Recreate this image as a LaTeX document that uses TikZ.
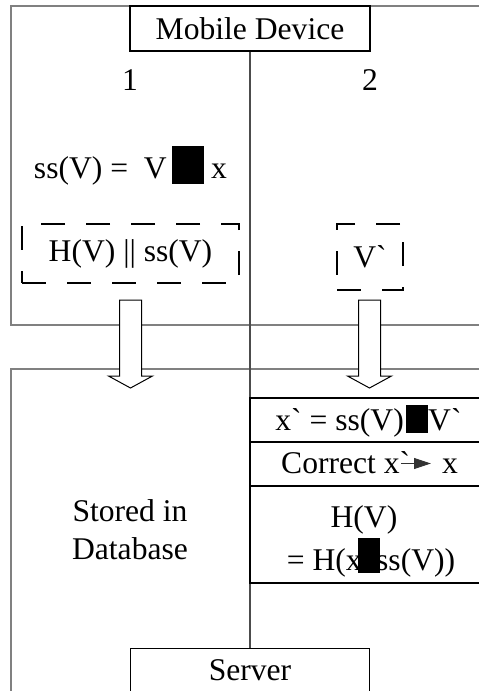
\documentclass[tikz,border=0pt]{standalone}
\usepackage{fontspec}
\newfontfamily\tnr{Liberation Serif}
\usetikzlibrary{arrows.meta}
\definecolor{framegray}{RGB}{128,128,128}
\tikzset{
  txt/.style={font=\tnr\fontsize{31.6}{38}\selectfont, inner sep=0pt},
  frame/.style={draw=framegray, line width=1.3pt},
  dashbox/.style={txt, draw, line width=1.3pt, dash pattern=on 24pt off 21pt},
  plainbox/.style={txt, draw, line width=1.3pt, fill=white},
}
\begin{document}
\begin{tikzpicture}[x=1pt,y=-1pt]
\useasboundingbox (0,0) rectangle (479,691);
% device and server areas
\draw[frame] (481,6) -- (11,6) -- (11,325) -- (481,325);
\draw[frame] (481,369) -- (11,369) -- (11,693);
\node[plainbox, minimum width=240pt, minimum height=45pt] (mobile) at (250,28.5) {Mobile Device};
\node[plainbox, minimum width=239pt, minimum height=44pt, anchor=north] (server) at (250,648) {Server};
\draw[line width=1.1pt, black!70] (mobile.south) -- (server.north);
% step 1
\node[txt] (one) at (130,80) {1};
\node[txt, anchor=base east] (ssv) at (167,178) {ss(V) = \ V};
\fill (172,146) rectangle (204,184);
\node[txt, anchor=base west] (xa) at (211,178) {x};
\node[dashbox, minimum width=217pt, minimum height=59pt] (hash) at (130.5,253.5) {H(V) || ss(V)};
% step 2
\node[txt] (two) at (370,80) {2};
\node[dashbox, minimum width=66pt, minimum height=66pt] (vnoisy) at (370,257) {V`};
% block arrows
\foreach \cx in {130.5,369.5}{
  \draw[fill=white, line width=1pt] (\cx-11,300) -- (\cx+11,300) -- (\cx+11,376) -- (\cx+22,376)
    -- (\cx,388) -- (\cx-22,376) -- (\cx-11,376) -- cycle;
}
% server side
\node[txt, align=center] (stored) at (130,530) {Stored in\\Database};
\draw[line width=1.3pt] (250,398) rectangle (482,583);
\draw[line width=1.3pt] (250,442) -- (482,442);
\draw[line width=1.3pt] (250,486) -- (482,486);
\node[txt, anchor=base east] (xr) at (404,430) {x` = ss(V)};
\fill (405.5,405) rectangle (427.5,433);
\node[txt, anchor=base west] (vr) at (428,430) {V`};
\node[txt, anchor=base west] (corr) at (281,473) {Correct x`};
\node[txt, anchor=base west] (xc) at (442,473) {x};
\coordinate (atail) at (401,463.5);
\coordinate (ahead) at (431,463.5);
\draw[line width=1pt, black!80, -{Triangle[length=17pt,width=11pt]}] (atail) -- (ahead);
\node[txt, anchor=base] (hv) at (364,527) {H(V)};
\node[txt, anchor=base east] (hx) at (362,570) {= H(x};
\node[txt, anchor=base west] (hs) at (376,570) {ss(V))};
\fill (358,538) rectangle (380,573);
\end{tikzpicture}
\end{document}
